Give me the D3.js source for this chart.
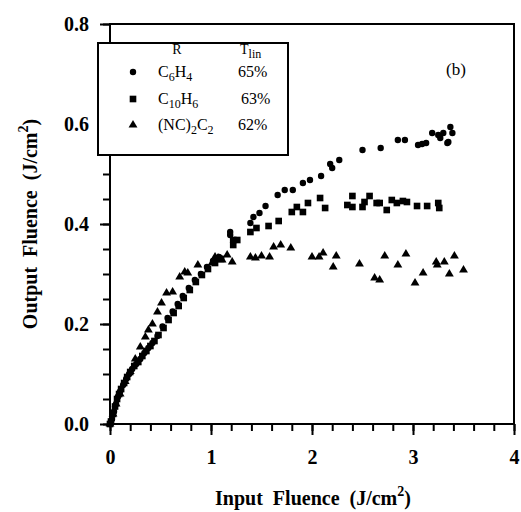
<!DOCTYPE html>
<html>
<head>
<meta charset="utf-8">
<script src="https://cdn.jsdelivr.net/npm/d3@7"></script>
<style>
  body { margin: 0; background: #fff; }
  text { font-family: "Liberation Serif", "Times New Roman", serif; fill: #000; white-space: pre; }
</style>
</head>
<body>
<div id="chart"></div>
<script>
// output vs input fluence, three R groups
const c6h4 = [
  [0.0,0.0],[0.02,0.01],[0.04,0.025],[0.06,0.04],[0.08,0.055],[0.1,0.065],[0.13,0.078],[0.16,0.09],
  [0.19,0.1],[0.22,0.11],[0.26,0.12],[0.3,0.13],[0.34,0.142],[0.38,0.152],[0.42,0.162],[0.47,0.176],
  [0.52,0.195],[0.57,0.212],[0.62,0.225],[0.67,0.24],[0.72,0.256],[0.78,0.272],[0.84,0.288],[0.9,0.3],
  [0.96,0.314],[1.02,0.326],[1.08,0.334],[1.19,0.384],[1.19,0.378],[1.39,0.402],[1.42,0.414],[1.48,0.422],
  [1.54,0.436],[1.66,0.458],[1.73,0.468],[1.81,0.468],[1.91,0.482],[1.98,0.488],[2.09,0.496],[2.18,0.52],
  [2.2,0.512],[2.27,0.528],[2.5,0.548],[2.68,0.552],[2.85,0.568],[2.92,0.568],[3.05,0.558],[3.09,0.56],
  [3.13,0.562],[3.19,0.582],[3.25,0.578],[3.27,0.572],[3.3,0.582],[3.34,0.562],[3.35,0.564],[3.37,0.594],[3.39,0.582]
];
const c10h6 = [
  [0.0,0.0],[0.01,0.005],[0.03,0.02],[0.05,0.035],[0.07,0.05],[0.09,0.06],[0.11,0.07],[0.14,0.082],
  [0.17,0.094],[0.2,0.104],[0.24,0.116],[0.28,0.124],[0.32,0.136],[0.36,0.146],[0.4,0.156],[0.44,0.166],
  [0.48,0.178],[0.53,0.192],[0.58,0.208],[0.63,0.222],[0.68,0.236],[0.73,0.252],[0.79,0.268],[0.85,0.284],
  [0.91,0.298],[0.97,0.31],[1.04,0.322],[1.1,0.33],[1.22,0.358],[1.22,0.368],[1.26,0.368],[1.39,0.384],
  [1.45,0.392],[1.57,0.396],[1.67,0.406],[1.8,0.424],[1.85,0.434],[1.91,0.424],[1.96,0.442],[2.08,0.452],
  [2.13,0.432],[2.35,0.438],[2.4,0.456],[2.4,0.434],[2.5,0.434],[2.52,0.444],[2.57,0.456],[2.64,0.442],
  [2.67,0.442],[2.74,0.428],[2.79,0.448],[2.84,0.442],[2.9,0.446],[2.94,0.444],[3.04,0.436],[3.14,0.436],
  [3.25,0.442],[3.26,0.432]
];
const nc2c2 = [
  [0.0,0.0],[0.03,0.02],[0.06,0.04],[0.1,0.06],[0.15,0.085],[0.2,0.105],[0.25,0.13],[0.3,0.154],
  [0.35,0.174],[0.38,0.188],[0.42,0.2],[0.47,0.224],[0.51,0.242],[0.56,0.262],[0.62,0.264],[0.69,0.294],
  [0.74,0.304],[0.77,0.302],[0.87,0.318],[1.01,0.322],[1.04,0.334],[1.07,0.332],[1.11,0.328],[1.16,0.338],
  [1.21,0.324],[1.39,0.334],[1.44,0.332],[1.5,0.336],[1.58,0.334],[1.62,0.354],[1.69,0.358],[1.79,0.352],
  [2.0,0.334],[2.07,0.334],[2.11,0.342],[2.24,0.336],[2.21,0.314],[2.47,0.32],[2.62,0.292],[2.67,0.288],
  [2.72,0.336],[2.85,0.318],[2.93,0.34],[3.02,0.282],[3.1,0.302],[3.23,0.324],[3.24,0.318],[3.31,0.324],
  [3.41,0.336],[3.36,0.3],[3.5,0.308]
];

const xTicks = [0, 1, 2, 3, 4];
const yTicks = [0.0, 0.2, 0.4, 0.6, 0.8];
const legendNames = [["C", "6", "H", "4"], ["C", "10", "H", "6"], ["(NC)", "2", "C", "2"]];
const legendPct = ["65%", "63%", "62%"];

const width = 521, height = 512;
const margin = { left: 110, right: 7, top: 24, bottom: 88 };

const svg = d3.select("#chart").append("svg")
  .attr("width", width)
  .attr("height", height);

const x = d3.scaleLinear().domain([0, 4]).range([margin.left, width - margin.right]);
const y = d3.scaleLinear().domain([0, 0.8]).range([height - margin.bottom, margin.top]);

// minor ticks
svg.append("g")
  .attr("transform", `translate(0,${y(0)})`)
  .call(d3.axisBottom(x).tickValues(d3.range(0, 4.01, 0.2)).tickSize(7).tickFormat(""))
  .call(g => g.select(".domain").remove())
  .selectAll("line").attr("stroke-width", 2);
svg.append("g")
  .attr("transform", `translate(${x(0)},0)`)
  .call(d3.axisLeft(y).tickValues(d3.range(0, 0.801, 0.05)).tickSize(7).tickFormat(""))
  .call(g => g.select(".domain").remove())
  .selectAll("line").attr("stroke-width", 2);

// major ticks + labels
svg.append("g")
  .attr("transform", `translate(0,${y(0)})`)
  .call(d3.axisBottom(x).tickValues(xTicks).tickSize(11).tickPadding(15).tickFormat(d3.format("d")))
  .call(g => g.select(".domain").remove())
  .call(g => g.selectAll("line").attr("stroke-width", 2))
  .call(g => g.selectAll("text").attr("font-size", 20).attr("font-weight", "bold")
    .style("font-family", "'Liberation Serif', serif"));
svg.append("g")
  .attr("transform", `translate(${x(0)},0)`)
  .call(d3.axisLeft(y).tickValues(yTicks).tickSize(10).tickPadding(11).tickFormat(d3.format(".1f")))
  .call(g => g.select(".domain").remove())
  .call(g => g.selectAll("line").attr("stroke-width", 2))
  .call(g => g.selectAll("text").attr("font-size", 20).attr("font-weight", "bold")
    .style("font-family", "'Liberation Serif', serif"));

// frame
svg.append("rect")
  .attr("x", x(0)).attr("y", y(0.8))
  .attr("width", x(4) - x(0)).attr("height", y(0) - y(0.8))
  .attr("fill", "none").attr("stroke", "#000").attr("stroke-width", 2);

// axis titles
const xt = svg.append("text")
  .attr("x", (x(0) + x(4)) / 2 + 1).attr("y", 505)
  .attr("text-anchor", "middle").attr("font-size", 20).attr("font-weight", "bold");
xt.append("tspan").text("Input  Fluence  (J/cm");
xt.append("tspan").attr("dy", -9).attr("font-size", 14).text("2");
xt.append("tspan").attr("dy", 9).text(")");

const yt = svg.append("text")
  .attr("transform", `translate(37,${(y(0) + y(0.8)) / 2}) rotate(-90)`)
  .attr("text-anchor", "middle").attr("font-size", 20).attr("font-weight", "bold");
yt.append("tspan").text("Output  Fluence  (J/cm");
yt.append("tspan").attr("dy", -9).attr("font-size", 14).text("2");
yt.append("tspan").attr("dy", 9).text(")");

// markers
const sym = {
  circle: d3.symbol().type(d3.symbolCircle).size(32),
  square: d3.symbol().type(d3.symbolSquare).size(44),
  triangle: d3.symbol().type(d3.symbolTriangle).size(34)
};
const series = [
  { data: c6h4, shape: "circle" },
  { data: c10h6, shape: "square" },
  { data: nc2c2, shape: "triangle" }
];
series.forEach(s => {
  svg.append("g").selectAll("path")
    .data(s.data)
    .enter()
    .append("path")
    .attr("d", sym[s.shape])
    .attr("transform", d => `translate(${x(d[0])},${y(d[1])})`)
    .attr("fill", "#000");
});

// legend
const lg = svg.append("g");
lg.append("rect")
  .attr("x", 98).attr("y", 43).attr("width", 190).attr("height", 112)
  .attr("fill", "#fff").attr("stroke", "#000").attr("stroke-width", 2);
lg.append("text").attr("x", 177).attr("y", 54).attr("font-size", 14).attr("text-anchor", "middle").text("R");
const th = lg.append("text").attr("x", 240).attr("y", 54).attr("font-size", 14);
th.append("tspan").text("T");
th.append("tspan").attr("dy", 4).attr("font-size", 12).text("lin");

const rowY = [77, 104, 130];
series.forEach((s, i) => {
  lg.append("path")
    .attr("d", sym[s.shape])
    .attr("transform", `translate(133,${rowY[i] - 5})`)
    .attr("fill", "#000");
  const t = lg.append("text").attr("x", 158).attr("y", rowY[i]).attr("font-size", 16);
  const parts = legendNames[i];
  t.append("tspan").text(parts[0]);
  t.append("tspan").attr("dy", 4).attr("font-size", 12).text(parts[1]);
  t.append("tspan").attr("dy", -4).text(parts[2]);
  t.append("tspan").attr("dy", 4).attr("font-size", 12).text(parts[3]);
  lg.append("text").attr("x", i === 1 ? 241 : 238).attr("y", rowY[i]).attr("font-size", 16).text(legendPct[i]);
});

svg.append("text").attr("x", 456).attr("y", 75).attr("font-size", 17).attr("text-anchor", "middle").text("(b)");
</script>
</body>
</html>
